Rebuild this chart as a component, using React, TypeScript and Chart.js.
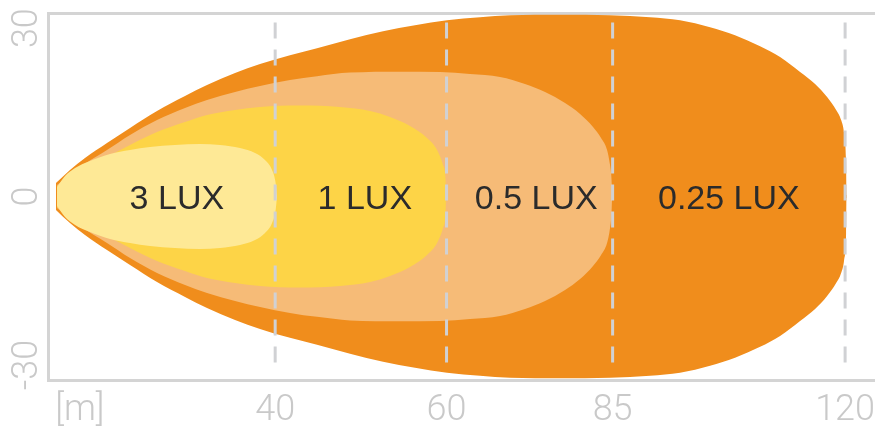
import { useEffect, useRef } from 'react';
import { Chart, registerables } from 'chart.js';

Chart.register(...registerables);

// Axis ticks
const xTickPos = [4.8, 34.2, 60, 85, 120];
const xTickLabels = ['[m]', '40', '60', '85', '120'];
const yTicks = [-30, 0, 30];
const guideX = [34.2, 60, 85, 120];
const guideTop = 31;
const guideBottom = -31;

// Zones: distance along beam and half-width of each isolux outline (upper half, mirrored below)
const zoneNames = ['0.25 LUX', '0.5 LUX', '1 LUX', '3 LUX'];

const lux025X = [1.2, 3.31, 5.57, 8.88, 12.35, 16.41, 20.63, 23.94, 28.16, 31.92, 36.43, 40.5, 45.47, 50.44, 55.25, 60.07, 65.04, 69.56, 77.08, 84.61, 90.63, 95.15, 99.67, 103.43, 107.2, 110.21, 113.22, 115.48, 117.29, 118.65, 119.4, 119.85, 120.15, 120.23];
const lux025H = [2.4, 4.72, 6.85, 9.53, 12.2, 15.22, 17.89, 19.85, 21.99, 23.59, 25.19, 26.44, 28.04, 29.46, 30.53, 31.42, 31.96, 32.31, 32.4, 32.31, 31.96, 31.42, 30.18, 28.75, 26.79, 24.84, 22.17, 20.03, 17.71, 15.4, 13.62, 11.3, 6.5, 0];

const lux05X = [1.36, 4.82, 8.88, 12.35, 16.41, 20.63, 23.94, 28.16, 31.92, 36.43, 40.5, 45.47, 53.0, 59.02, 63.53, 68.05, 71.81, 74.83, 77.84, 80.1, 82.05, 83.26, 84.16, 84.61, 84.84, 84.92];
const lux05H = [2.05, 5.25, 8.28, 10.95, 13.62, 15.76, 17.18, 18.6, 19.67, 20.74, 21.45, 22.08, 22.25, 22.17, 21.81, 21.28, 20.03, 18.6, 16.64, 14.69, 12.37, 10.41, 8.28, 5.61, 2.94, 0];

const lux1X = [1.36, 4.82, 8.88, 12.35, 16.41, 20.63, 23.94, 28.16, 31.92, 37.94, 43.96, 48.48, 51.49, 54.5, 57.06, 58.57, 59.47, 59.85, 59.92];
const lux1H = [1.87, 4.36, 7.03, 9.17, 11.48, 13.26, 14.51, 15.4, 15.93, 16.2, 15.93, 15.22, 14.15, 12.55, 10.41, 8.28, 5.61, 2.94, 0];

const lux3X = [1.36, 2.56, 4.07, 6.32, 9.33, 12.35, 15.36, 19.12, 22.88, 25.9, 28.91, 31.17, 32.67, 33.73, 34.25, 34.48];
const lux3H = [1.69, 3.65, 5.07, 6.32, 7.57, 8.28, 8.81, 9.17, 9.35, 9.17, 8.63, 7.75, 6.5, 4.72, 2.58, 0];

// Label anchor (distance) for each zone name, same order as zoneNames
const zoneLabelX = [102.5, 73.5, 47.7, 19.4];

const zoneColors = ['#F08D1C', '#F6BB77', '#FDD447', '#FEE996'];
const gray = '#c9c9c9';
const frame = '#d4d4d4';

const zoneLabelPlugin = {
  id: 'zoneLabels',
  afterDatasetsDraw(chart: any) {
    const { ctx, scales } = chart;
    const size = 34;
    ctx.save();
    ctx.font = `${size}px "Liberation Sans", Arial, sans-serif`;
    ctx.fillStyle = '#2b2b2b';
    ctx.textAlign = 'center';
    ctx.textBaseline = 'alphabetic';
    zoneNames.forEach((t, i) => {
      const px = scales.x.getPixelForValue(zoneLabelX[i]);
      const py = scales.y.getPixelForValue(0);
      ctx.fillText(t, px, py + (size * 0.716) / 2);
    });
    ctx.restore();
  },
};

export default function App() {
  const ref = useRef<HTMLCanvasElement | null>(null);

  useEffect(() => {
    if (!ref.current) return;
    const profiles: [number[], number[]][] = [
      [lux025X, lux025H],
      [lux05X, lux05H],
      [lux1X, lux1H],
      [lux3X, lux3H],
    ];
    const shapeSets: any[] = [];
    profiles.forEach(([xs, hs], i) => {
      [1, -1].forEach((sign) => {
        shapeSets.push({
          type: 'line',
          label: zoneNames[i],
          data: xs.map((x, k) => ({ x, y: sign * hs[k] })),
          xAxisID: 'x',
          yAxisID: 'y',
          backgroundColor: zoneColors[i],
          borderColor: 'rgba(0,0,0,0)',
          borderWidth: 0,
          pointRadius: 0,
          cubicInterpolationMode: 'monotone',
          fill: { value: -sign * 0.25 },
          order: 10 - i,
        });
      });
    });
    const guideSets = guideX.map((gx) => ({
      type: 'line',
      label: 'guide',
      data: [
        { x: gx, y: guideTop },
        { x: gx, y: guideBottom },
      ],
      xAxisID: 'x',
      yAxisID: 'y',
      borderColor: '#d0d1d4',
      borderWidth: 3,
      borderDash: [16, 11],
      pointRadius: 0,
      fill: false,
      tension: 0,
      order: 0,
    }));

    const tickFont = {
      family: "Roboto, 'DejaVu Sans Condensed', sans-serif",
      size: 36,
      weight: 300 as any,
    };

    const chart = new Chart(ref.current, {
      type: 'line',
      data: { datasets: [...shapeSets, ...guideSets] as any },
      plugins: [zoneLabelPlugin],
      options: {
        animation: false,
        responsive: false,
        layout: { padding: { top: 13, left: 0, right: 0, bottom: 0 } },
        plugins: { legend: { display: false }, tooltip: { enabled: false } },
        scales: {
          x: {
            type: 'linear',
            position: 'bottom',
            min: 0,
            max: 124.5,
            afterBuildTicks: (s: any) => {
              s.ticks = xTickPos.map((v) => ({ value: v }));
            },
            afterFit: (s: any) => {
              s.height = 50;
              s.paddingLeft = 0;
              s.paddingRight = 0;
            },
            ticks: {
              autoSkip: false,
              maxRotation: 0,
              minRotation: 0,
              padding: 9,
              color: gray,
              font: tickFont,
              callback: (_v: any, i: number) => xTickLabels[i],
            },
            grid: { display: false, drawTicks: false },
            border: { display: true, color: frame, width: 3 },
          },
          xTop: {
            type: 'linear',
            position: 'top',
            min: 0,
            max: 1,
            ticks: { display: false },
            grid: { display: false, drawTicks: false },
            border: { display: true, color: frame, width: 3 },
          },
          y: {
            type: 'linear',
            min: -32.7,
            max: 32.7,
            afterBuildTicks: (s: any) => {
              s.ticks = yTicks.map((v) => ({ value: v }));
            },
            afterFit: (s: any) => {
              s.width = 48;
              s.paddingTop = 0;
              s.paddingBottom = 0;
            },
            ticks: {
              autoSkip: false,
              minRotation: 90,
              maxRotation: 90,
              crossAlign: 'center',
              padding: -5,
              color: gray,
              font: tickFont,
              callback: (v: any) => String(v),
            },
            grid: { display: false, drawTicks: false },
            border: { display: true, color: frame, width: 3 },
          },
        },
      },
    });
    return () => chart.destroy();
  }, []);

  return (
    <div style={{ position: 'fixed', left: 0, top: 0, width: 875, height: 430, background: '#fff' }}>
      <canvas ref={ref} width={875} height={430} style={{ display: 'block' }} />
    </div>
  );
}
